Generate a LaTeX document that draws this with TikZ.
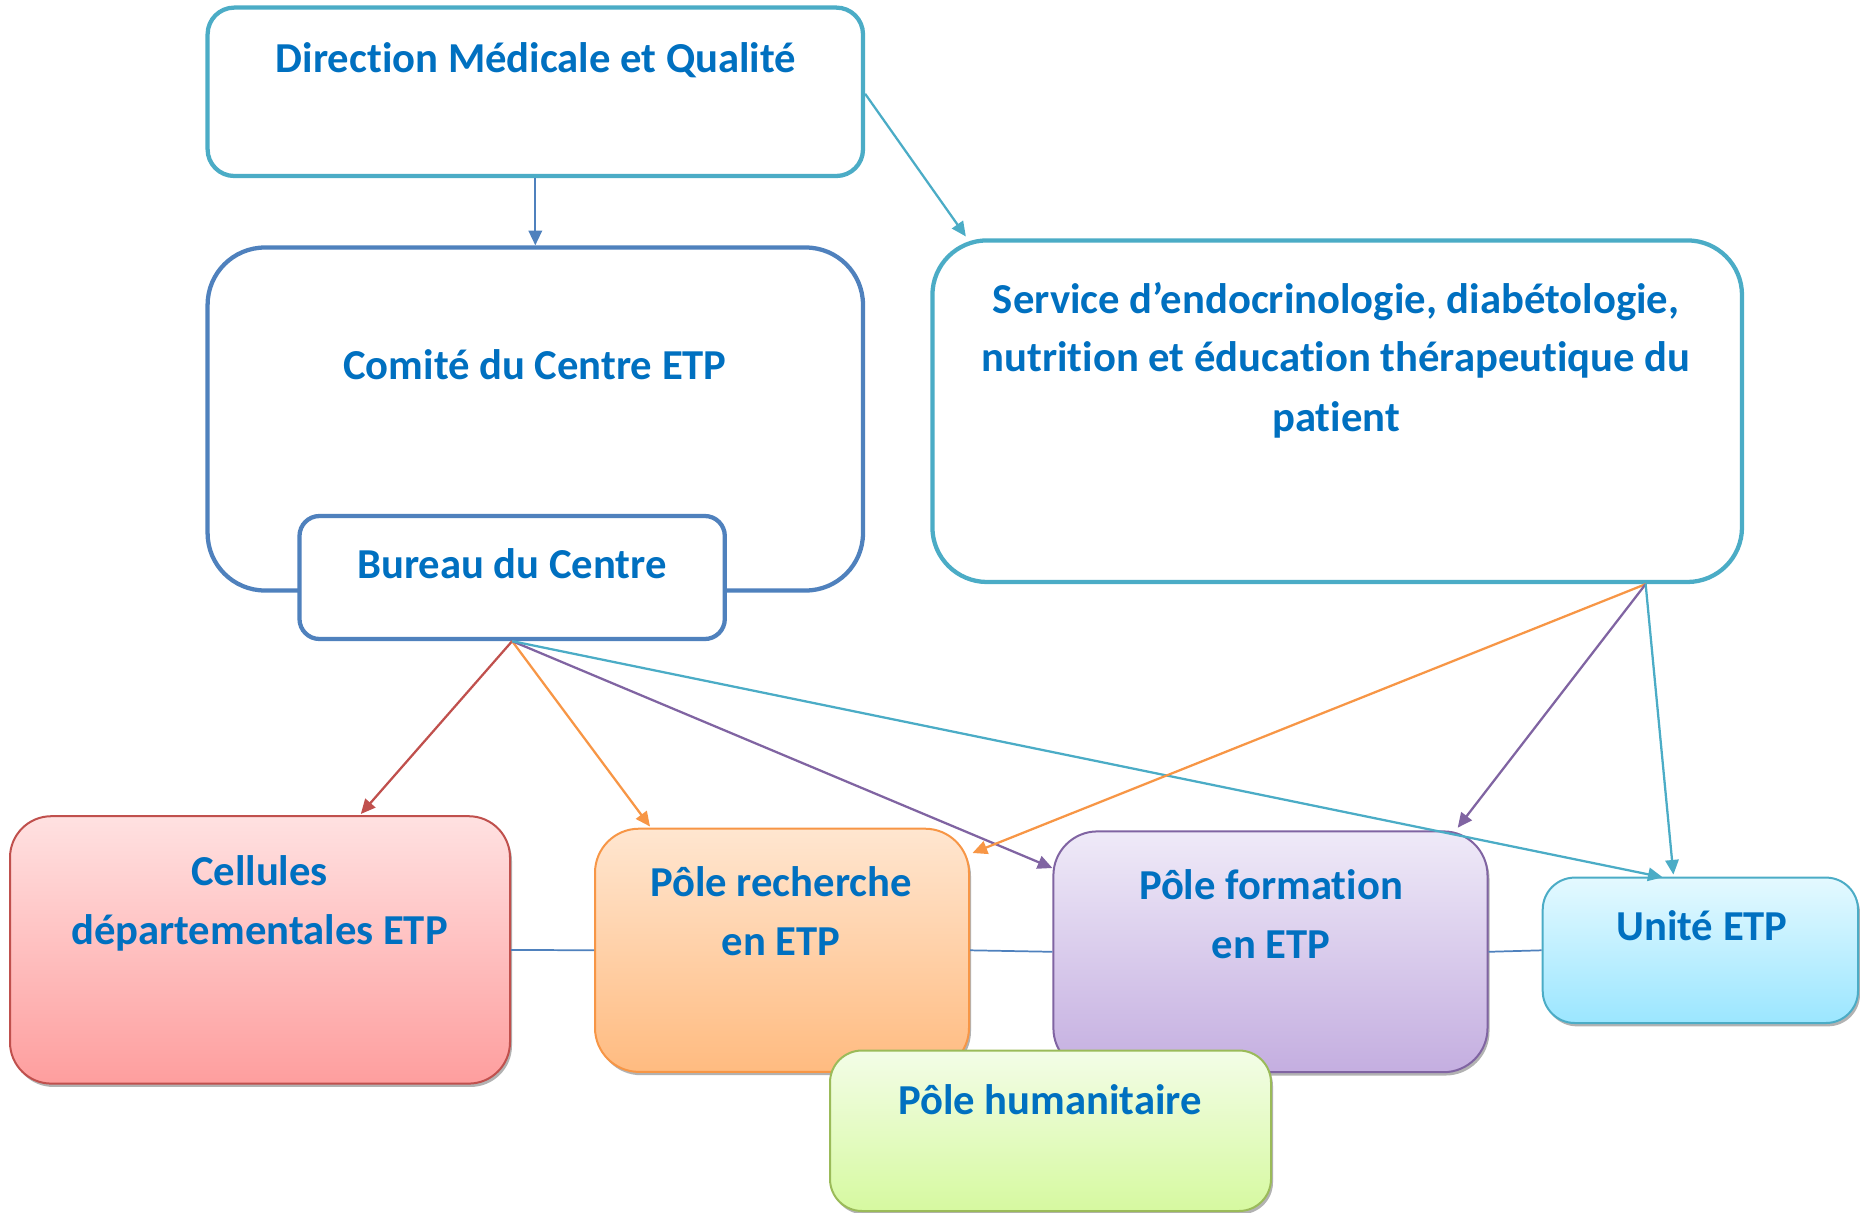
\documentclass[tikz,border=0pt]{standalone}
\usepackage{fontspec}
\setmainfont{Carlito}[Ligatures=NoCommon]
\usetikzlibrary{arrows.meta,shadows,calc,fit}
\definecolor{cTeal}{HTML}{4BACC6}
\definecolor{cBlue}{HTML}{4F81BD}
\definecolor{cTxt}{HTML}{0070C0}
\definecolor{cRed}{HTML}{C0504D}
\definecolor{cRedT}{HTML}{FFE1E1}
\definecolor{cRedB}{HTML}{FE9E9E}
\definecolor{cOra}{HTML}{F79646}
\definecolor{cOraT}{HTML}{FFE6D0}
\definecolor{cOraB}{HTML}{FFBB80}
\definecolor{cPur}{HTML}{8064A2}
\definecolor{cPurT}{HTML}{EFEAF8}
\definecolor{cPurB}{HTML}{C4AEE0}
\definecolor{cCyT}{HTML}{E4F9FF}
\definecolor{cCyB}{HTML}{9BE6FF}
\definecolor{cGre}{HTML}{9BBB59}
\definecolor{cGreT}{HTML}{F3FDE7}
\definecolor{cGreB}{HTML}{D6F9A0}
\tikzset{
  bigbox/.style={inner sep=0pt, line width=3.2pt, fill=white},
  colbox/.style={inner sep=0pt, line width=1.5pt,
    drop shadow={shadow xshift=1.5pt, shadow yshift=-2.5pt, fill=black, opacity=0.3}},
  lbl/.style={font=\fontsize{32}{44}\selectfont\bfseries, text=cTxt, anchor=base, inner sep=0pt},
  arr/.style={line width=1.7pt, -{Triangle[length=11pt,width=10pt]}},
  link/.style={line width=1.3pt, draw=cBlue}
}
\begin{document}
\begin{tikzpicture}[x=0.75pt,y=-0.75pt]
\useasboundingbox (0,0) rectangle (1860,1213);

% top boxes
\node[bigbox, draw=cTeal, rounded corners=20pt, fit={(207.6,7.6) (863,176)}] (dir) {};
\node[bigbox, draw=cBlue, rounded corners=43pt, fit={(207.6,247.5) (863,590.5)}] (comite) {};
\node[bigbox, draw=cBlue, rounded corners=15pt, fit={(299.5,516) (724.8,639)}] (bureau) {};
\node[bigbox, draw=cTeal, rounded corners=41pt, fit={(932.4,240.4) (1742,582)}] (service) {};
\coordinate (ssrc) at ($(service.south east)+(-98.5,0)$);

% bottom boxes
\node[colbox, draw=cRed, top color=cRedT, bottom color=cRedB, rounded corners=31pt, fit={(10,816.2) (510,1083.6)}] (cell) {};
\node[colbox, draw=cOra, top color=cOraT, bottom color=cOraB, rounded corners=33pt, fit={(595,828.7) (969,1071.9)}] (rech) {};
\node[colbox, draw=cPur, top color=cPurT, bottom color=cPurB, rounded corners=33pt, fit={(1053.4,831.4) (1487.5,1072.2)}] (form) {};
\node[colbox, draw=cTeal, top color=cCyT, bottom color=cCyB, rounded corners=24pt, fit={(1542.7,877.6) (1858,1023)}] (unite) {};
\node[colbox, draw=cGre, top color=cGreT, bottom color=cGreB, rounded corners=24pt, fit={(830,1050.5) (1271,1211)}] (hum) {};

% horizontal links
\draw[link] (cell.east) -- (rech.west);
\draw[link] (rech.east) -- (form.west);
\draw[link] (form.east) -- (unite.west);

% target points
\coordinate (tServ) at ($(service.north west)+(35.6,-1.8)$);
\coordinate (tCell) at ($(cell.north west)+(351.8,-1.2)$);
\coordinate (tRech) at ($(rech.north west)+(56,-1.2)$);
\coordinate (tRechR) at ($(rech.north east)+(2.5,25.3)$);
\coordinate (tFormL) at ($(form.north west)+(0,37.6)$);
\coordinate (tFormT) at ($(form.north east)+(-30.8,-2.7)$);
\coordinate (tUniA) at ($(unite.north west)+(121,0.7)$);
\coordinate (tUniB) at ($(unite.north west)+(131.7,-2)$);

% arrows
\draw[arr, draw=cBlue, fill=cBlue] (dir.south) -- (comite.north);
\draw[arr, draw=cTeal, fill=cTeal] ($(dir.east)+(0,2)$) -- (tServ);
\draw[arr, draw=cRed] (bureau.south) -- (tCell);
\draw[arr, draw=cOra] (bureau.south) -- (tRech);
\draw[arr, draw=cPur] (bureau.south) -- (tFormL);
\draw[arr, draw=cTeal] (bureau.south) -- (tUniA);
\draw[arr, draw=cOra] (ssrc) -- (tRechR);
\draw[arr, draw=cPur] (ssrc) -- (tFormT);
\draw[arr, draw=cTeal] (ssrc) -- (tUniB);

% texts
\node[lbl] (tdir) at (536,73) {Direction Médicale et Qualité};
\node[lbl] (tcom) at (535,379.3) {Comité du Centre ETP};
\node[lbl] (tbur) at (512,578) {Bureau du Centre};
\node[lbl] (tser1) at (1336,313.5) {Service d’endocrinologie, diabétologie,};
\node[lbl] (tser2) at (1336,371.5) {nutrition et éducation thérapeutique du};
\node[lbl] (tser3) at (1336,431) {patient};
\node[lbl] (tcel1) at (259.5,885.8) {Cellules};
\node[lbl] (tcel2) at (259.5,944.8) {départementales ETP};
\node[lbl] (trec1) at (781,896.7) {Pôle recherche};
\node[lbl] (trec2) at (781,955.3) {en ETP};
\node[lbl] (tfor1) at (1271,899.5) {Pôle formation};
\node[lbl] (tfor2) at (1271,958.5) {en ETP};
\node[lbl] (tuni) at (1702,940.5) {Unité ETP};
\node[lbl] (thum) at (1050,1114.5) {Pôle humanitaire};
\end{tikzpicture}
\end{document}
